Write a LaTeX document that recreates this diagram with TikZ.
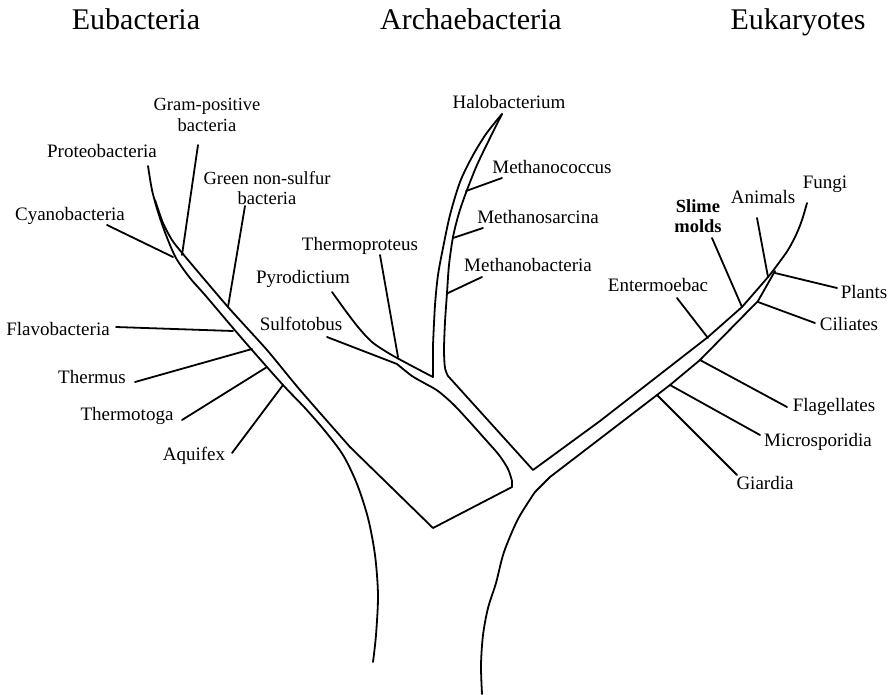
\documentclass[tikz,border=0pt]{standalone}
\usepackage{fontspec}
\setmainfont{Liberation Serif}
\begin{document}
\begin{tikzpicture}[x=1pt,y=-1pt,
  trunk/.style={line width=1.8pt, line join=round, line cap=round},
  br/.style={line width=1.8pt, line cap=round},
  lab/.style={inner sep=0pt, anchor=base, font=\fontsize{19}{16.5}\selectfont},
  lab2/.style={inner sep=0pt, align=center, font=\fontsize{18.5}{20.6}\selectfont},
  ttl/.style={inner sep=0pt, anchor=base, font=\fontsize{30}{32}\selectfont}]
\useasboundingbox (0,0) rectangle (894,694);

% titles
\node[ttl] (teub) at (136,29) {Eubacteria};
\node[ttl] (tarc) at (471,29) {Archaebacteria};
\node[ttl] (teuk) at (798,29) {Eukaryotes};

% labels
\node[lab]  (lpro) at (102,157) {Proteobacteria};
\node[lab]  (lcya) at (70,220) {Cyanobacteria};
\node[lab2] (lgra) at (207,115) {Gram-positive\\bacteria};
\node[lab2] (lgre) at (267,188) {Green non-sulfur\\bacteria};
\node[lab]  (lfla) at (58,335) {Flavobacteria};
\node[lab]  (lthe) at (92,383) {Thermus};
\node[lab]  (ltga) at (127,420) {Thermotoga};
\node[lab]  (laq)  at (194,460) {Aquifex};
\node[lab]  (lsul) at (301,330) {Sulfotobus};
\node[lab]  (lpyr) at (303,283) {Pyrodictium};
\node[lab]  (ltpr) at (360,250) {Thermoproteus};
\node[lab]  (lhal) at (509,108) {Halobacterium};
\node[lab]  (lmco) at (552,173) {Methanococcus};
\node[lab]  (lmsa) at (538,223) {Methanosarcina};
\node[lab]  (lmba) at (528,271) {Methanobacteria};
\node[lab]  (lent) at (658,291) {Entermoebac};
\node[lab2,font=\fontsize{18.5}{20.6}\selectfont\bfseries] (lslm) at (698,216) {Slime\\molds};
\node[lab]  (lani) at (763,203) {Animals};
\node[lab]  (lfun) at (825,188) {Fungi};
\node[lab]  (lpla) at (864,298) {Plants};
\node[lab]  (lcil) at (849,330) {Ciliates};
\node[lab]  (lflg) at (834,411) {Flagellates};
\node[lab]  (lmic) at (818,446) {Microsporidia};
\node[lab]  (lgia) at (765,489) {Giardia};

% branch end points
\coordinate (cyaE) at (107,225); \coordinate (cyaJ) at (173,257);
\coordinate (graE) at (198,145); \coordinate (graJ) at (182,255);
\coordinate (greE) at (245,206); \coordinate (greJ) at (228,307);
\coordinate (flaE) at (116,327); \coordinate (flaJ) at (233,331);
\coordinate (theE) at (135,382); \coordinate (theJ) at (252,349);
\coordinate (tgaE) at (182,420); \coordinate (tgaJ) at (267,367);
\coordinate (aqE)  at (232,453); \coordinate (aqJ)  at (283,385);
\coordinate (tprE) at (380,255); \coordinate (tprJ) at (398,357);
\coordinate (mcoE) at (502,178); \coordinate (mcoJ) at (466,191);
\coordinate (msaE) at (483,228); \coordinate (msaJ) at (453,238);
\coordinate (mbaE) at (482,277); \coordinate (mbaJ) at (448,293);
\coordinate (entE) at (677,298); \coordinate (entJ) at (708,338);
\coordinate (slmE) at (712,238); \coordinate (slmJ) at (742,307);
\coordinate (aniE) at (757,218); \coordinate (aniJ) at (768,277);
\coordinate (plaE) at (837,288); \coordinate (plaJ) at (775,273);
\coordinate (cilE) at (815,323); \coordinate (cilJ) at (758,302);
\coordinate (flgE) at (787,407); \coordinate (flgJ) at (700,360);
\coordinate (micE) at (760,435); \coordinate (micJ) at (670,385);
\coordinate (giaE) at (737,475); \coordinate (giaJ) at (657,395);
\coordinate (sulE) at (327,337);
\coordinate (pyrE) at (332,292);

% Eubacteria outer line
\draw[trunk] plot[smooth, tension=0.5] coordinates {(148,166) (152,190) (158,212) (166,235) (176,258) (190,278) (205,295) (233,328) (252,350) (283,385) (305,408) (325,431) (343,455) (357,484) (368,518) (375,555) (378,595) (376,635) (373,662)};

% Sulfolobus line, archaea lower edge, loop, eubacteria inner line
\draw[trunk] (sulE) -- plot[smooth, tension=0.5] coordinates {(397,364) (412,376) (426,384) (438,391) (453,404) (468,420) (485,439) (499,455) (508,469) (512,481)} -- (512,487) -- (433,528)
  -- plot[smooth, tension=0.4] coordinates {(350,447) (300,390) (267,350) (228,307) (183,254) (172,240) (163,223) (155,200)};

% Pyrodictium line, archaea upper edge, Halobacterium left line
\draw[trunk] (pyrE) -- plot[smooth, tension=0.5] coordinates {(345,310) (358,327) (372,342) (390,354) (412,366) (433,377)}
  -- plot[smooth, tension=0.5] coordinates {(433,345) (435,305) (438,275) (443,248) (450,215) (460,182) (472,157) (486,134) (502,114)};

% Halobacterium right line, archaea right edge, eukaryote upper edge, Fungi
\draw[trunk] plot[smooth, tension=0.5] coordinates {(502,114) (489,140) (477,165) (467,190) (459,213) (453,237) (449,265) (447,293) (445,322) (444,350) (445,368) (448,376)}
  -- (533,470) -- (600,421) -- (708,337)
  -- plot[smooth, tension=0.5] coordinates {(742,307) (768,277) (778,264) (788,250) (796,235) (802,220) (807,203)};

% Eukaryote lower edge and bottom
\draw[trunk] (775,271) -- (758,301) -- (700,360) -- (670,385) -- (657,395) -- (550,477)
  -- plot[smooth, tension=0.5] coordinates {(535,492) (518,519) (504,552) (496,583) (488,608) (483,635) (481,665) (482,694)};

% branches
\draw[br] (cyaE) -- (cyaJ);
\draw[br] (graE) -- (graJ);
\draw[br] (greE) -- (greJ);
\draw[br] (flaE) -- (flaJ);
\draw[br] (theE) -- (theJ);
\draw[br] (tgaE) -- (tgaJ);
\draw[br] (aqE) -- (aqJ);
\draw[br] (tprE) -- (tprJ);
\draw[br] (mcoE) -- (mcoJ);
\draw[br] (msaE) -- (msaJ);
\draw[br] (mbaE) -- (mbaJ);
\draw[br] (entE) -- (entJ);
\draw[br] (slmE) -- (slmJ);
\draw[br] (aniE) -- (aniJ);
\draw[br] (plaE) -- (plaJ);
\draw[br] (cilE) -- (cilJ);
\draw[br] (flgE) -- (flgJ);
\draw[br] (micE) -- (micJ);
\draw[br] (giaE) -- (giaJ);
\end{tikzpicture}
\end{document}
